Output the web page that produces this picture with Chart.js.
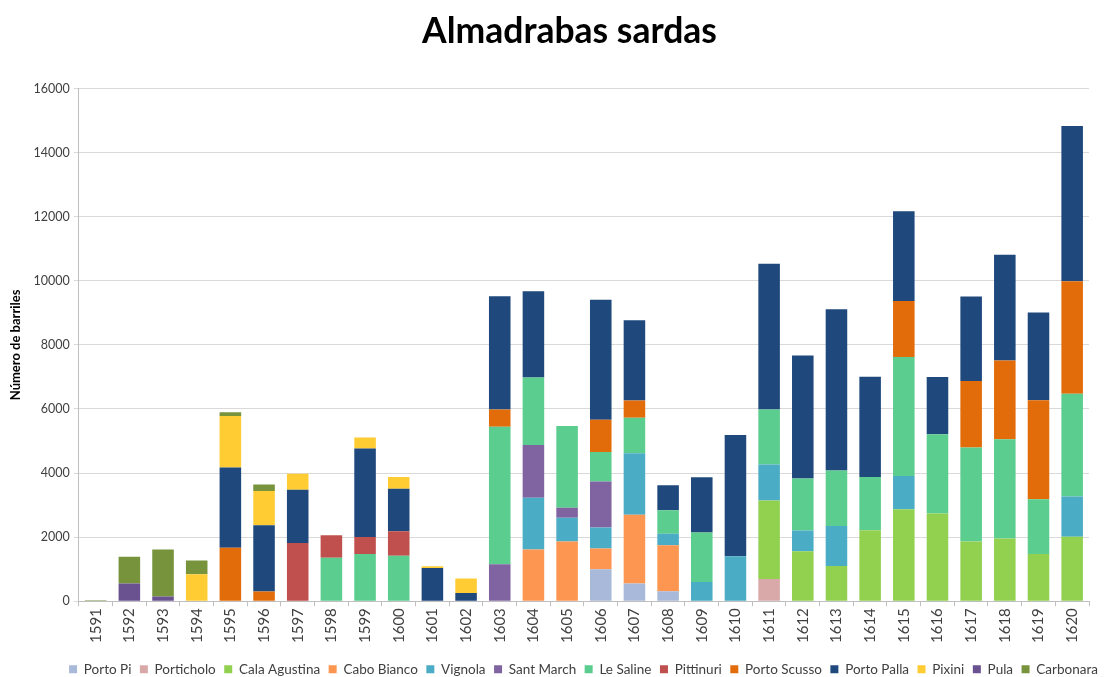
<!DOCTYPE html>
<html>
<head>
<meta charset="utf-8">
<script src="https://cdn.jsdelivr.net/npm/chart.js@4"></script>
<style>
  body { margin: 0; background: #fff; }
  #wrap { width: 1105px; height: 677px; }
</style>
</head>
<body>
<div id="wrap"><canvas id="chart"></canvas></div>
<script>
const years = ['1591','1592','1593','1594','1595','1596','1597','1598','1599','1600',
  '1601','1602','1603','1604','1605','1606','1607','1608','1609','1610',
  '1611','1612','1613','1614','1615','1616','1617','1618','1619','1620'];

// barrels per almadraba, one value per year (0 = none)
const portoPi      = [0,0,0,0,0,0,0,0,0,0, 0,0,0,0,0,1000,550,310,0,0, 0,0,0,0,0,0,0,0,0,0];
const porticholo   = [0,0,0,0,0,0,0,0,0,0, 0,0,0,0,0,0,0,0,0,0, 690,0,0,0,0,0,0,0,0,0];
const calaAgustina = [0,0,0,0,0,0,0,0,0,0, 0,0,0,0,0,0,0,0,0,0, 2450,1560,1100,2215,2870,2740,1860,1960,1470,2015];
const caboBianco   = [0,0,0,0,0,0,0,0,0,0, 0,0,0,1615,1860,645,2150,1435,0,0, 0,0,0,0,0,0,0,0,0,0];
const vignola      = [0,0,0,0,0,0,0,0,0,0, 0,0,0,1615,745,655,1915,360,600,1400, 1125,645,1245,0,1035,0,0,0,0,1255];
const santMarch    = [0,0,0,0,0,0,0,0,0,0, 0,0,1155,1645,310,1435,0,0,0,0, 0,0,0,0,0,0,0,0,0,0];
const leSaline     = [0,0,0,0,0,0,0,1360,1470,1415, 0,0,4290,2105,2550,925,1115,735,1545,0, 1715,1625,1735,1660,3715,2470,2940,3095,1715,3205];
const pittinuri    = [0,0,0,0,0,0,1815,700,535,770, 0,0,0,0,0,0,0,0,0,0, 0,0,0,0,0,0,0,0,0,0];
const portoScusso  = [0,0,0,0,1670,300,0,0,0,0, 0,0,535,0,0,1000,535,0,0,0, 0,0,0,0,1750,0,2070,2460,3085,3515];
const portoPalla   = [0,0,0,0,2505,2070,1660,0,2760,1325, 1035,255,3540,2695,0,3750,2505,780,1725,3785, 4550,3840,5030,3130,2805,1790,2640,3295,2740,4840];
const pixini       = [0,0,0,845,1605,1070,500,0,345,365, 55,455,0,0,0,0,0,0,0,0, 0,0,0,0,0,0,0,0,0,0];
const pula         = [0,555,145,0,0,0,0,0,0,0, 0,0,0,0,0,0,0,0,0,0, 0,0,0,0,0,0,0,0,0,0];
const carbonara    = [30,835,1470,425,120,200,0,0,0,0, 0,0,0,0,0,0,0,0,0,0, 0,0,0,0,0,0,0,0,0,0];

const yTicks = [0,2000,4000,6000,8000,10000,12000,14000,16000];

const series = [
  ['Porto Pi', portoPi, '#a8b9d9'],
  ['Porticholo', porticholo, '#d9a9a9'],
  ['Cala Agustina', calaAgustina, '#92d050'],
  ['Cabo Bianco', caboBianco, '#fd9650'],
  ['Vignola', vignola, '#4aacc5'],
  ['Sant March', santMarch, '#8064a2'],
  ['Le Saline', leSaline, '#5bcd8e'],
  ['Pittinuri', pittinuri, '#c0504d'],
  ['Porto Scusso', portoScusso, '#e36c0a'],
  ['Porto Palla', portoPalla, '#1f497d'],
  ['Pixini', pixini, '#ffcc33'],
  ['Pula', pula, '#6a5190'],
  ['Carbonara', carbonara, '#77933c']
];

const font = "Lato, 'Liberation Sans', sans-serif";

// title and legend sit a bit right of the canvas centre, as in the original
const shiftBoxes = {
  id: 'shiftBoxes',
  afterLayout(chart) {
    chart.titleBlock.left += 23;
    chart.titleBlock.right += 23;
    chart.legend.left += 37;
    chart.legend.right += 37;
    chart.legend.top += 9;
    chart.legend.bottom += 9;
  }
};

new Chart(document.getElementById('chart'), {
  type: 'bar',
  data: {
    labels: years,
    datasets: series.map(([label, data, color]) => ({
      label: label,
      data: data,
      backgroundColor: color,
      borderWidth: 0,
      barPercentage: 0.64,
      categoryPercentage: 1
    }))
  },
  plugins: [shiftBoxes],
  options: {
    responsive: true,
    maintainAspectRatio: false,
    animation: false,
    layout: { padding: { left: 4, right: 16, top: 6, bottom: 0 } },
    plugins: {
      title: {
        display: true,
        text: 'Almadrabas sardas',
        color: '#000',
        font: { family: font, size: 35.5, weight: 'bold' },
        padding: { top: 4, bottom: 36 }
      },
      legend: {
        position: 'bottom',
        labels: {
          color: '#404040',
          font: { family: font, size: 13.5 },
          boxWidth: 8,
          boxHeight: 8,
          padding: 8.5
        }
      },
      tooltip: { enabled: false }
    },
    scales: {
      x: {
        stacked: true,
        grid: {
          offset: true,
          drawOnChartArea: false,
          tickLength: 5,
          color: '#bfbfbf'
        },
        border: { color: '#bfbfbf' },
        ticks: {
          color: '#404040',
          font: { family: font, size: 15 },
          maxRotation: 90,
          minRotation: 90,
          padding: 2
        }
      },
      y: {
        stacked: true,
        min: 0,
        max: 16000,
        afterBuildTicks: axis => { axis.ticks = yTicks.map(v => ({ value: v })); },
        grid: { color: '#d9d9d9', tickLength: 5 },
        border: { color: '#bfbfbf' },
        ticks: {
          color: '#404040',
          font: { family: font, size: 12.5 },
          padding: 4,
          callback: v => String(v)
        },
        title: {
          display: true,
          text: 'Número de barriles',
          color: '#000',
          font: { family: font, size: 13, weight: 'bold' },
          padding: { bottom: 6 }
        }
      }
    }
  }
});
</script>
</body>
</html>
